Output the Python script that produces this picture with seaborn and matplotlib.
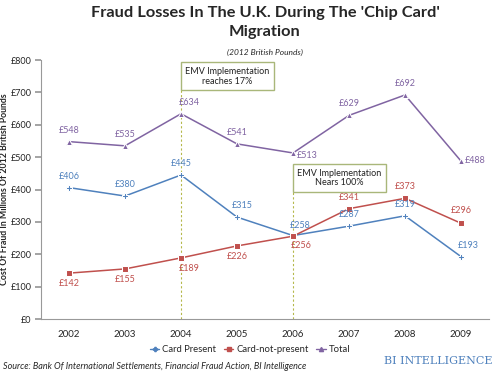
import numpy as np
import pandas as pd
import matplotlib.pyplot as plt
import seaborn as sns

# Daten
years = ['2002', '2003', '2004', '2005', '2006', '2007', '2008', '2009']
card_present = [406, 380, 445, 315, 258, 287, 319, 193]
card_not_present = [142, 155, 189, 226, 256, 341, 373, 296]
total = [548, 535, 634, 541, 513, 629, 692, 488]

series_names = ['Card Present', 'Card-not-present', 'Total']
colors = ['#4F81BD', '#C0504D', '#8064A2']
markers = ['P', 's', '^']

sns.set_theme(style="white")
plt.rcParams['font.family'] = ['Lato', 'DejaVu Sans']

df = pd.DataFrame({
    'pos': list(range(len(years))) * 3,
    'value': card_present + card_not_present + total,
    'series': [n for n in series_names for _ in years],
})

fig = plt.figure(figsize=(5, 3.75), dpi=100)
ax = fig.add_axes([0.082, 0.149, 0.896, 0.691])

sns.lineplot(data=df, x='pos', y='value', hue='series', style='series',
             palette=dict(zip(series_names, colors)),
             markers=dict(zip(series_names, markers)), dashes=False,
             markersize=4, linewidth=1.1, ax=ax, legend=False)

# Datenbeschriftungen (offset in points)
offsets = {
    'Card Present': [(0, 5), (0, 5), (0, 5), (4, 5), (5, 4), (0, 5), (0, 5), (5, 5)],
    'Card-not-present': [(0, -11), (0, -11), (6, -11), (0, -11), (6, -10), (0, 5), (0, 5), (0, 6)],
    'Total': [(0, 5), (0, 5), (6, 5), (0, 5), (10, -5), (0, 5), (0, 5), (10, -3)],
}
for name, vals, col in zip(series_names, [card_present, card_not_present, total], colors):
    for i, v in enumerate(vals):
        dx, dy = offsets[name][i]
        ax.annotate(f'£{v}', (i, v), xytext=(dx, dy), textcoords='offset points',
                    ha='center', va='bottom',
                    fontsize=6.5, color=col)

# vertikale Linien + Kästen
for xpos, txt, ytxt, ybot in [(2, 'EMV Implementation\nreaches 17%', 750, 712),
                              (4, 'EMV Implementation\nNears 100%', 436, 403)]:
    ax.vlines(xpos, 0, ybot, color='#B5B84A', linestyle=(0, (2, 2)), linewidth=0.8, zorder=0)
    ax.text(xpos + 0.08, ytxt, txt, ha='left', va='center', fontsize=6.5, color='#222222',
            multialignment='center', linespacing=1.1,
            bbox=dict(boxstyle='square,pad=0.5', fc='white', ec='#A9B77A', lw=1))

ax.set_xlim(-0.5, len(years) - 0.5)
ax.set_ylim(0, 800)
ax.set_xticks(range(len(years)))
ax.set_xticklabels(years, fontsize=7)
ax.set_xticks(np.arange(-0.5, len(years), 1), minor=True)
ax.set_yticks(range(0, 801, 100))
ax.set_yticklabels([f'£{v}' for v in range(0, 801, 100)], fontsize=6.5)
ax.tick_params(axis='x', which='major', length=0, pad=8)
ax.tick_params(axis='x', which='minor', length=4, color='#999999', direction='out')
ax.tick_params(axis='y', length=4, color='#999999', direction='out', left=True, pad=3)
ax.set_xlabel('')
ax.set_ylabel('Cost Of Fraud In Millions Of 2012 British Pounds', fontsize=6.3,
              fontweight='bold')
ax.yaxis.set_label_coords(-0.072, 0.5)
for s in ['top', 'right']:
    ax.spines[s].set_visible(False)
for s in ['left', 'bottom']:
    ax.spines[s].set_color('#999999')
    ax.spines[s].set_linewidth(0.8)

# Titel
fig.text(0.53, 0.985, "Fraud Losses In The U.K. During The 'Chip Card'\nMigration",
         ha='center', va='top', fontsize=11.8, fontweight='bold', linespacing=1.45)
fig.text(0.53, 0.861, '(2012 British Pounds)', ha='center', va='center', fontsize=6,
         style='italic')

# Legende
handles = [plt.Line2D([], [], color=c, marker=m, markersize=3, lw=1) for c, m in zip(colors, markers)]
fig.legend(handles, series_names, loc='center', bbox_to_anchor=(0.5, 0.068), ncol=3,
           frameon=False, fontsize=6.8, handlelength=1.0, handletextpad=0.3, columnspacing=0.8)

fig.text(0.006, 0.022, 'Source: Bank Of International Settlements, Financial Fraud Action, BI Intelligence',
         ha='left', va='center', fontsize=6.5, style='italic')
fig.text(0.986, 0.036, 'BI INTELLIGENCE', ha='right', va='center', fontsize=8,
         color='#4F81BD', family=['DejaVu Serif'])

fig.savefig('out.png', dpi=100)
